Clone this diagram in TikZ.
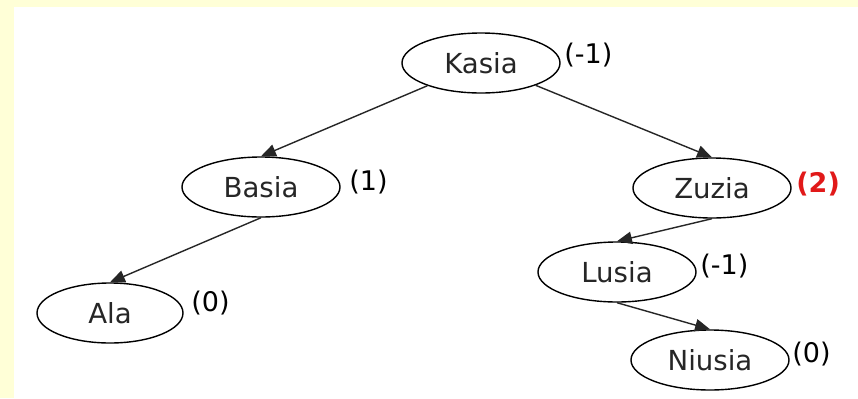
\documentclass[tikz,border=0pt]{standalone}
\usepackage{fontspec}
\setmainfont{DejaVu Sans}
\usetikzlibrary{arrows,shapes.geometric,positioning}
\definecolor{bgyellow}{RGB}{255,255,215}
\definecolor{bfred}{RGB}{225,25,25}

\begin{document}
\begin{tikzpicture}[>=triangle 45,line width=0.7pt,on grid,
    person/.style={ellipse,draw,line width=0.7pt,minimum width=79pt,minimum height=30pt,inner sep=0pt,text=black!85,font=\fontsize{13.8}{16}\selectfont},
    bf/.style={anchor=west,inner sep=0pt,font=\fontsize{13.5}{16}\selectfont}]
    %tlo
    \fill[bgyellow] (0,0) rectangle (429pt,-199pt);
    \fill[white] (7pt,-3.5pt) rectangle (429pt,-199pt);
    \useasboundingbox (0,0) rectangle (429pt,-199pt);

    %drzewo
    \node[person] (kasia) at (240.5pt,-31.5pt) {Kasia};
    \node[person] (basia) [below left=62pt and 110pt of kasia] {Basia};
    \node[person] (zuzia) [below right=62.5pt and 115.5pt of kasia] {Zuzia};
    \node[person, minimum width=73pt] (ala) [below left=63pt and 75.5pt of basia] {Ala};
    \node[person] (lusia) [below left=42pt and 47.5pt of zuzia] {Lusia};
    \node[person] (niusia) [below right=44pt and 46.5pt of lusia] {Niusia};

    %wspolczynniki
    \node[bf] (kasiabf) at ([xshift=1.5pt,yshift=4pt]kasia.east) {(-1)};
    \node[bf] (basiabf) at ([xshift=4pt,yshift=2.5pt]basia.east) {(1)};
    \node[bf, text=bfred, font=\fontsize{13.5}{16}\selectfont\bfseries] (zuziabf) at ([xshift=2pt,yshift=2pt]zuzia.east) {(2)};
    \node[bf] (alabf) at ([xshift=3.5pt,yshift=5pt]ala.east) {(0)};
    \node[bf] (lusiabf) at ([xshift=1.5pt,yshift=3pt]lusia.east) {(-1)};
    \node[bf] (niusiabf) at ([xshift=1pt,yshift=3pt]niusia.east) {(0)};

    \path[->, color=black!85]
    (kasia) edge (basia.north)
    (kasia) edge (zuzia.north)
    (basia.south) edge (ala.north)
    (zuzia.south) edge (lusia.north)
    (lusia.south) edge (niusia.north);
\end{tikzpicture}
\end{document}
